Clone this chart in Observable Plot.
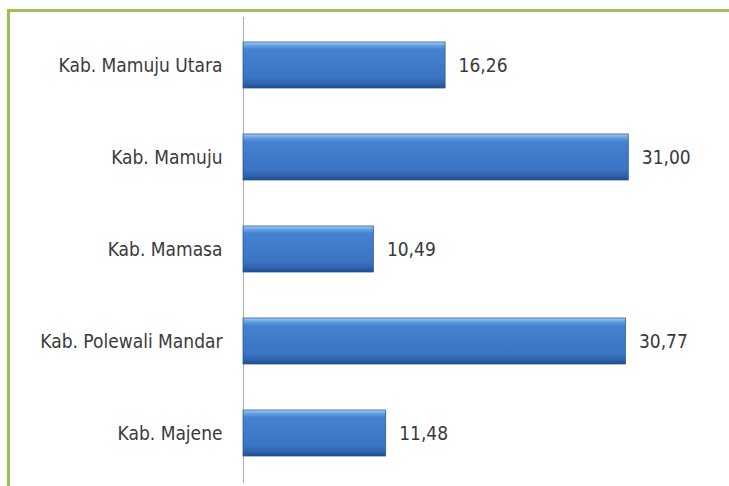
<!DOCTYPE html>
<html>
<head>
<meta charset="utf-8">
<script src="https://cdn.jsdelivr.net/npm/d3@7"></script>
<script src="https://cdn.jsdelivr.net/npm/@observablehq/plot@0.6"></script>
<style>
  html, body { margin: 0; padding: 0; background: #fff; }
  #chart { position: relative; width: 729px; height: 486px; overflow: hidden; }
  #frame { position: absolute; left: 7px; top: 9px; width: 740px; height: 500px;
           border-left: 3px solid #9bc153; border-top: 3px solid #9bc153; box-sizing: border-box; }
  #chart svg { position: absolute; left: 0; top: 0; }
</style>
</head>
<body>
<div id="chart"><div id="frame"></div></div>
<script>
const regions = ["Kab. Mamuju Utara", "Kab. Mamuju", "Kab. Mamasa", "Kab. Polewali Mandar", "Kab. Majene"];
const values = [16.26, 31.00, 10.49, 30.77, 11.48];

const data = regions.map((r, i) => ({region: r, value: values[i], label: values[i].toFixed(2).replace(".", ",")}));
const font = "'Liberation Sans Narrow', 'DejaVu Sans Condensed', sans-serif";

const plot = Plot.plot({
  width: 729,
  height: 486,
  marginLeft: 243,
  marginRight: 51,
  marginTop: 18,
  marginBottom: 7,
  style: {background: "transparent", fontFamily: font},
  x: {domain: [0, 35], axis: null},
  y: {domain: regions, paddingInner: 0.5, paddingOuter: 0.25, axis: null},
  marks: [
    Plot.ruleX([0], {stroke: "#aaa", strokeWidth: 1, insetTop: -1, insetBottom: -4}),
    Plot.barX(data, {x: "value", y: "region", fill: "url(#barGrad)", stroke: "#2b5c9e", strokeWidth: 0.8,
      style: {filter: "url(#shadow)"}}),
    Plot.text(data, {x: 0, y: "region", text: "region", textAnchor: "end", dx: -21,
      fontSize: 19, fill: "#3a3a3a", fontFamily: font}),
    Plot.text(data, {x: "value", y: "region", text: "label", textAnchor: "start", dx: 13,
      fontSize: 19, fill: "#3a3a3a", fontFamily: font})
  ]
});

const svg = d3.select(plot);
const defs = svg.insert("defs", ":first-child");
const g = defs.append("linearGradient").attr("id", "barGrad").attr("x1", 0).attr("y1", 0).attr("x2", 0).attr("y2", 1);
[[0, "#a9d0f5"], [0.07, "#6aa3e3"], [0.16, "#4582d0"], [0.78, "#3a74c2"], [0.92, "#2d60a8"], [1, "#1f4a88"]]
  .forEach(([o, c]) => g.append("stop").attr("offset", o).attr("stop-color", c));
const f = defs.append("filter").attr("id", "shadow").attr("x", "-5%").attr("y", "-10%").attr("width", "115%").attr("height", "140%");
f.append("feDropShadow").attr("dx", 2).attr("dy", 3).attr("stdDeviation", 2).attr("flood-color", "#000").attr("flood-opacity", 0.3);

document.getElementById("chart").appendChild(plot);
</script>
</body>
</html>
